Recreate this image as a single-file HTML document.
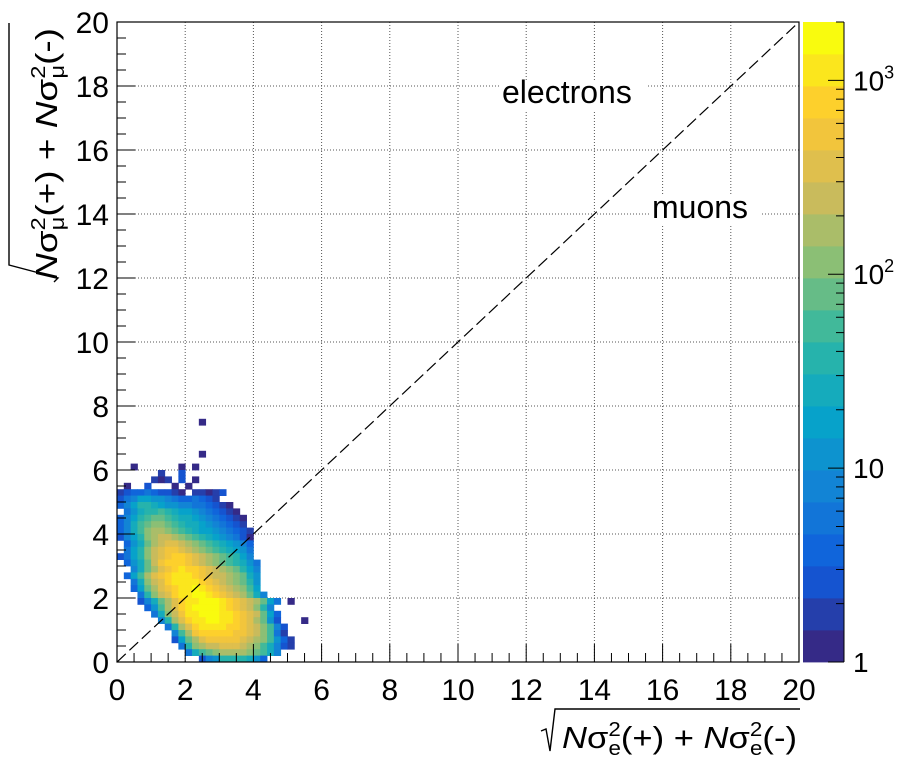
<!DOCTYPE html>
<html><head><meta charset="utf-8"><style>
body{margin:0;background:#fff;}
svg{display:block;font-family:"Liberation Sans",Arial,sans-serif;}
</style></head><body>
<svg id="chart" width="898" height="775" viewBox="0 0 898 775">
<rect x="0" y="0" width="898" height="775" fill="#fff"/>
<g id="grid"></g>
<g id="cells"></g>
<line id="diag" stroke="#000" stroke-width="1.2" stroke-dasharray="12,5"/>
<rect x="500" y="80" width="148" height="30" fill="#fff"/>
<text x="502" y="103" font-size="32">electrons</text>
<rect x="650" y="195" width="112" height="30" fill="#fff"/>
<text x="652" y="218" font-size="32">muons</text>
<g id="axes"></g>
<rect x="117" y="22" width="682" height="640" fill="none" stroke="#000" stroke-width="1.2"/>
<g id="cbar"></g>
<g>
<polyline points="541,731 546,729 550,751 555,709 800,709" fill="none" stroke="#000" stroke-width="1.4"/>
<text x="562" y="748" font-size="31" textLength="235" lengthAdjust="spacingAndGlyphs"><tspan font-style="italic">N</tspan>σ<tspan font-size="20" dy="-12">2</tspan><tspan font-size="20" dx="-11" dy="19">e</tspan><tspan dy="-7">(+) + </tspan><tspan font-style="italic">N</tspan>σ<tspan font-size="20" dy="-12">2</tspan><tspan font-size="20" dx="-11" dy="19">e</tspan><tspan dy="-7">(-)</tspan></text>
</g>
<g>
<polyline points="9,23 9,265 58,278 54,282" fill="none" stroke="#000" stroke-width="1.4"/>
<g transform="translate(57,0) rotate(-90)">
<text x="-280" y="0" font-size="31" textLength="252" lengthAdjust="spacingAndGlyphs"><tspan font-style="italic">N</tspan>σ<tspan font-size="20" dy="-12">2</tspan><tspan font-size="20" dx="-11" dy="19">μ</tspan><tspan dy="-7">(+) + </tspan><tspan font-style="italic">N</tspan>σ<tspan font-size="20" dy="-12">2</tspan><tspan font-size="20" dx="-11" dy="19">μ</tspan><tspan dy="-7">(-)</tspan></text>
</g>
</g>
</svg>
<script>
const xTicks=[0,2,4,6,8,10,12,14,16,18,20];
const yTicks=[0,2,4,6,8,10,12,14,16,18,20];
const cbTickVals=[1,10,100,1000];
const cbTickLabels=["1","10","10^2","10^3"];
const binWidth=0.2;
const zMax=2000;
// rows from top (j=37, y=7.4..7.6) to bottom (j=0); chars = log level 0-9,a-j; '.' empty
const rows=[
"............0...............",
"............................",
"............................",
"............................",
"............................",
"............0...............",
"............................",
"..0......0.0................",
"......1..2..................",
".....101.2.0................",
".0..2...0.0.................",
"1233432210.11012............",
"245776654334321.............",
"35799876655443210...........",
".46899a98776543210..........",
"3579abba98876543210.........",
"358abccba9887654321.........",
"358acddcba9877654321........",
"2579cdeedcba98765420........",
".368bdeffedcba987653........",
".479cefggfedcba98764........",
"2479cefghhgfedcba975........",
".368beghhhgfedcba9864.......",
"..58bdfghihhgfedcb975.......",
".37adfghiiihgfeedcb86.......",
"..48cefhiiiihgfedcb96.......",
"..37bdfghiijihgfedca7.......",
"...49cefhiijjihgfedb85......",
"...258bdfhiijjjihgfedb74.0..",
"....36adfhijjjjihgfec95.....",
".....48cegiijjjiihgfeb73....",
"......59dfhiijjiihgfdb62...0",
".......49dfhiiiihhgfeca52...",
"........5adghhhhhggfeca41...",
"........27bdfgggggfedca631..",
".........49cdeefffedca8521..",
"..........48abcddddcba85....",
"............2569999863......"
];
const NS="http://www.w3.org/2000/svg";
const X0=117,X1=799,Y0=662,Y1=22;
function sx(v){return X0+(v/20)*(X1-X0);}
function sy(v){return Y0-(v/20)*(Y0-Y1);}
const CB_TOP=22,CB_BOT=662,logMax=Math.log10(zMax);
function cy(z){return CB_BOT-(Math.log10(z)/logMax)*(CB_BOT-CB_TOP);}
const st=[0,.125,.25,.375,.5,.625,.75,.875,1];
const R=[.2082,.0592,.0780,.0232,.1802,.5301,.8186,.9956,.9764];
const G=[.1664,.3599,.5041,.6419,.7178,.7492,.7328,.7862,.9832];
const B=[.5293,.8684,.8385,.7914,.6425,.4662,.3499,.1968,.0539];
function bird(t){let k=0;while(k<7&&t>st[k+1])k++;const f=(t-st[k])/(st[k+1]-st[k]);
const c=a=>Math.round(255*(a[k]+(a[k+1]-a[k])*f));return `rgb(${c(R)},${c(G)},${c(B)})`;}
const NC=20;const pal=[];for(let i=0;i<NC;i++)pal.push(bird(i/(NC-1)));
function colorFor(z){let b=Math.floor(Math.log10(z)/logMax*NC);if(b<0)b=0;if(b>NC-1)b=NC-1;return pal[b];}
function mk(tag,attrs,parent){const e=document.createElementNS(NS,tag);for(const k in attrs)e.setAttribute(k,attrs[k]);parent.appendChild(e);return e;}
const grid=document.getElementById('grid');
xTicks.slice(1,-1).forEach(v=>{const l=mk('line',{x1:sx(v),x2:sx(v),y1:Y0,y2:Y1,stroke:'#555','stroke-width':1,'stroke-dasharray':'1,2'},grid);

});
yTicks.slice(1,-1).forEach(v=>{const l=mk('line',{x1:X0,x2:X1,y1:sy(v),y2:sy(v),stroke:'#555','stroke-width':1,'stroke-dasharray':'1,2'},grid);

});
const cells=document.getElementById('cells');
const nR=rows.length;
rows.forEach((r,ri)=>{const j=nR-1-ri;for(let i=0;i<r.length;i++){const ch=r[i];if(ch==='.')continue;
const L=parseInt(ch,36);const z=Math.pow(10,(L+0.5)*logMax/NC);
const x0=sx(i*binWidth),x1=sx((i+1)*binWidth),y0=sy(j*binWidth),y1=sy((j+1)*binWidth);
const c=mk('rect',{x:x0,y:y1,width:x1-x0+0.4,height:y0-y1+0.4,fill:colorFor(z)},cells);

}});
const d=document.getElementById('diag');
d.setAttribute('x1',sx(0));d.setAttribute('y1',sy(0));d.setAttribute('x2',sx(20));d.setAttribute('y2',sy(20));
const axes=document.getElementById('axes');
for(let v=0;v<=20.001;v+=0.5){const major=Math.abs(v/2-Math.round(v/2))<1e-6;const len=major?18:9;
const t=mk('line',{x1:sx(v),x2:sx(v),y1:Y0,y2:Y0-len,stroke:'#000','stroke-width':1},axes);


const u=mk('line',{x1:X0,x2:X0+len,y1:sy(v),y2:sy(v),stroke:'#000','stroke-width':1},axes);

}
xTicks.forEach(v=>{const t=mk('text',{x:sx(v),y:700,'font-size':30,'text-anchor':'middle'},axes);t.textContent=v;

});
yTicks.forEach(v=>{const t=mk('text',{x:109,y:sy(v)+11,'font-size':30,'text-anchor':'end'},axes);t.textContent=v;

});
const cb=document.getElementById('cbar');
for(let b=0;b<NC;b++){const y0=CB_BOT-(b/NC)*(CB_BOT-CB_TOP),y1=CB_BOT-((b+1)/NC)*(CB_BOT-CB_TOP);
const r=mk('rect',{x:803,y:y1,width:41,height:y0-y1+0.4,fill:pal[b]},cb);

}
mk('line',{x1:844,x2:844,y1:CB_TOP,y2:CB_BOT,stroke:'#000','stroke-width':1},cb);
for(let dcd=0;dcd<4;dcd++){for(let m=1;m<10;m++){const z=m*Math.pow(10,dcd);if(z>zMax)break;
const len=m===1?16:8;const t=mk('line',{x1:844-len,x2:844,y1:cy(z),y2:cy(z),stroke:'#000','stroke-width':1},cb);

}}
cbTickVals.forEach((v,k)=>{const lab=cbTickLabels[k];const t=mk('text',{x:853,y:cy(v)+10,'font-size':28},cb);
if(lab.indexOf('^')>0){const p=lab.split('^');t.textContent=p[0];const s=mk('tspan',{'font-size':18,dy:-12},t);s.textContent=p[1];}
else t.textContent=lab;

});
</script>
</body></html>
